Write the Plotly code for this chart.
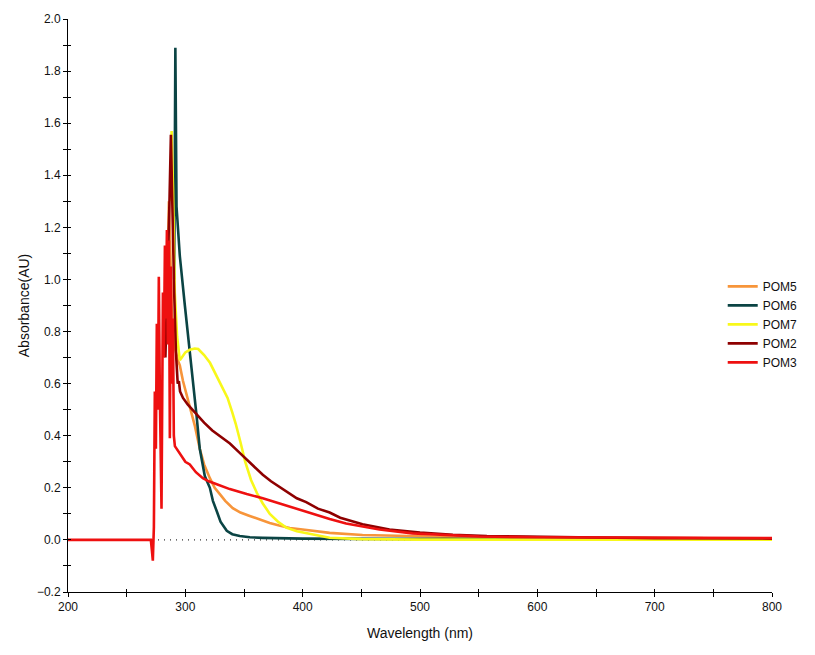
import plotly.graph_objects as go

# ---------------- data ----------------
series_names = ["POM5", "POM6", "POM7", "POM2", "POM3"]
series_colors = ["#F7953A", "#0B4444", "#F8F81A", "#8E0000", "#EE1010"]

pom5_wl = [284, 286, 287.5, 288.3, 289.6, 291, 293.6, 295.3, 298, 301, 303.8, 308, 312.3,
           316, 320.9, 325, 329.4, 334, 340.4, 347, 354.9, 363, 371.9, 380, 389, 400,
           412, 423, 451, 480, 520, 550, 600, 650, 700, 750, 800]
pom5_abs = [0.80, 1.30, 1.05, 0.90, 0.80, 0.74, 0.69, 0.67, 0.61, 0.56, 0.52, 0.44, 0.35,
            0.29, 0.237, 0.20, 0.176, 0.15, 0.122, 0.105, 0.092, 0.078, 0.065, 0.055, 0.046, 0.040,
            0.034, 0.027, 0.019, 0.015, 0.012, 0.011, 0.009, 0.008, 0.007, 0.006, 0.006]

pom6_wl = [290.5, 291.5, 292.5, 295.3, 299.6, 303.8, 306.6, 309.5, 312.3, 316.6, 320.9,
           323.5, 326.8, 330, 335.3, 340, 346.4, 355, 366, 400, 450, 500, 600, 700, 800]
pom6_abs = [1.00, 1.89, 1.28, 1.09, 0.90, 0.73, 0.62, 0.48, 0.35, 0.245, 0.20,
            0.15, 0.11, 0.07, 0.035, 0.022, 0.015, 0.010, 0.008, 0.005, 0.004, 0.003, 0.003, 0.003, 0.003]

pom7_wl = [287.5, 288.3, 289.5, 291, 293, 295.3, 297, 300, 303.8, 308, 311, 316, 321, 325,
           328, 330, 333, 336, 340, 343, 347, 351, 356, 361, 366, 372, 379, 386, 395, 406, 423,
           450, 500, 600, 700, 800]
pom7_abs = [1.30, 1.57, 1.35, 0.95, 0.78, 0.69, 0.70, 0.72, 0.73, 0.735, 0.733, 0.71, 0.68, 0.645,
            0.62, 0.60, 0.575, 0.545, 0.49, 0.445, 0.375, 0.30, 0.23, 0.18, 0.14, 0.10, 0.07, 0.047,
            0.033, 0.023, 0.008, 0.003, 0.001, 0.001, 0.001, 0.001]

pom2_wl = [283, 285, 286.5, 287.7, 289, 290.5, 292, 292.8, 293.5, 294.5, 295.5, 298, 302, 306, 310,
           316, 323, 330, 338, 345, 352, 359, 366, 373, 380, 388, 395, 403, 413, 423, 432,
           451, 474, 500, 528, 557, 600, 650, 700, 750, 800]
pom2_abs = [0.70, 1.00, 1.30, 1.555, 1.25, 0.95, 0.72, 0.645, 0.60, 0.61, 0.57, 0.545, 0.52, 0.50, 0.48,
            0.45, 0.42, 0.395, 0.37, 0.34, 0.31, 0.28, 0.25, 0.225, 0.205, 0.18, 0.16, 0.145, 0.12, 0.105,
            0.085, 0.06, 0.04, 0.028, 0.02, 0.015, 0.011, 0.009, 0.007, 0.006, 0.005]

pom3_wl = [200, 250, 269.8, 270.6, 271.5, 272.3, 273.2, 274.0, 274.9, 275.7, 276.6, 277.4,
           278.3, 279.7, 280.9, 281.7, 282.6, 283.4, 284.3, 285.1, 286.0, 286.8, 287.7,
           288.5, 289.4, 290.2, 291.1, 292.5, 295.3, 300, 303.8, 309, 314.9, 320, 326.8,
           337.9, 352.3, 366, 380.4, 394.9, 405, 415, 423, 437, 465.5, 493.6, 522.6, 550.6,
           600, 700, 800]
pom3_abs = [0.0, 0.0, 0.0, 0.0, -0.04, -0.08, 0.05, 0.57, 0.35, 0.83, 0.50, 1.01,
            0.55, 0.12, 0.95, 0.70, 1.13, 0.85, 1.19, 0.75, 1.15, 0.39, 1.05,
            0.60, 0.85, 0.40, 0.36, 0.35, 0.33, 0.30, 0.29, 0.26, 0.237, 0.225, 0.214,
            0.195, 0.176, 0.16, 0.14, 0.12, 0.105, 0.09, 0.08, 0.063, 0.04, 0.025, 0.019, 0.013,
            0.010, 0.008, 0.007]

wavelengths = [pom5_wl, pom6_wl, pom7_wl, pom2_wl, pom3_wl]
absorbances = [pom5_abs, pom6_abs, pom7_abs, pom2_abs, pom3_abs]

x_range = [200, 800]
y_range = [-0.2, 2.0]

# ---------------- figure ----------------
fig = go.Figure()
for name, color, wl, ab in zip(series_names, series_colors, wavelengths, absorbances):
    fig.add_trace(go.Scatter(x=wl, y=ab, mode="lines", name=name,
                             line=dict(color=color, width=2.6)))

# empty helper trace so the overlay axes (inner half of the crossing ticks) are drawn
fig.add_trace(go.Scatter(x=[], y=[], xaxis="x2", yaxis="y2", showlegend=False,
                         hoverinfo="skip", mode="lines"))

fig.add_hline(y=0, line=dict(color="black", width=1, dash="1px,5px"), layer="below")

font = dict(family="Liberation Sans, Arial, sans-serif", size=12, color="#111111")

fig.update_layout(
    width=815, height=655,
    margin=dict(l=68, r=42, t=16, b=63),
    paper_bgcolor="white", plot_bgcolor="white",
    font=font,
    showlegend=True,
    legend=dict(x=0.93, y=0.467, xanchor="left", yanchor="middle",
                bgcolor="rgba(0,0,0,0)", font=dict(size=12, color="#111111"),
                tracegroupgap=0, itemwidth=30),
    xaxis=dict(range=x_range, tick0=200, dtick=100, showgrid=False, zeroline=False,
               showline=True, linecolor="black", linewidth=1,
               ticks="outside", ticklen=4, tickcolor="black",
               minor=dict(dtick=50, ticks="outside", ticklen=4, tickcolor="black", showgrid=False),
               title=dict(text="Wavelength (nm)", standoff=14),
               mirror=False),
    yaxis=dict(range=y_range, tick0=0, dtick=0.2, tickformat=".1f", showgrid=False, zeroline=False,
               showline=True, linecolor="black", linewidth=1,
               ticks="outside", ticklen=4, tickcolor="black",
               minor=dict(dtick=0.1, ticks="outside", ticklen=4, tickcolor="black", showgrid=False),
               title=dict(text="Absorbance(AU)", standoff=3)),
    xaxis2=dict(range=x_range, overlaying="x", anchor="y", side="bottom",
                tick0=200, dtick=50, ticks="inside", ticklen=3, tickcolor="black",
                showticklabels=False, showgrid=False, zeroline=False, showline=False),
    yaxis2=dict(range=y_range, overlaying="y", anchor="x", side="left",
                tick0=0, dtick=0.1, ticks="inside", ticklen=3, tickcolor="black",
                showticklabels=False, showgrid=False, zeroline=False, showline=False),
)

fig.write_html("out.html")
